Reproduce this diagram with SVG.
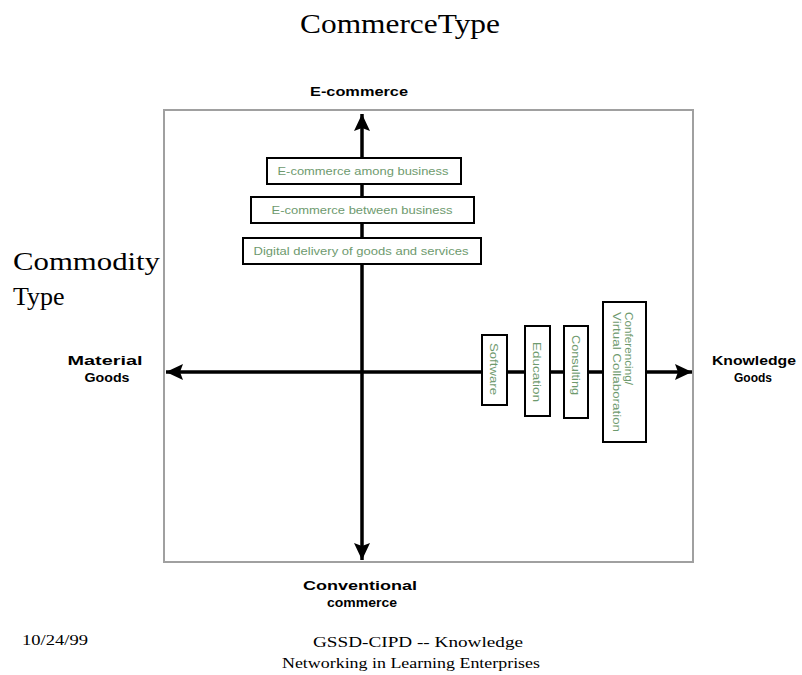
<svg xmlns="http://www.w3.org/2000/svg" width="802" height="675" viewBox="0 0 802 675">
  <style>
    .serif { font-family: "Liberation Serif", "Times New Roman", serif; fill: #000; }
    .axis-label { font-family: "Liberation Sans", Arial, sans-serif; font-weight: bold; font-size: 13px; fill: #000; text-anchor: middle; }
    .box { fill: #fff; stroke: #000; stroke-width: 2; }
    .box-text { font-family: "Liberation Sans", Arial, sans-serif; font-size: 11px; fill: #6e9a6e; text-anchor: middle; }
    .axis { stroke: #000; stroke-width: 3.5; fill: none; }
    .frame { fill: #fff; stroke: #a0a0a0; stroke-width: 2; }
  </style>
  <defs>
    <marker id="arrow" markerUnits="userSpaceOnUse" viewBox="-18 -10 20 20" refX="0" refY="0" markerWidth="20" markerHeight="20" orient="auto-start-reverse">
      <path d="M0,0 L-17,-8 L-14,0 L-17,8 Z" fill="#000"/>
    </marker>
  </defs>

  <rect width="802" height="675" fill="#fff"/>

  <!-- Titles -->
  <text class="serif" x="300" y="33" font-size="27" textLength="200" lengthAdjust="spacingAndGlyphs">CommerceType</text>
  <text class="serif" x="13" y="270" font-size="26" textLength="147" lengthAdjust="spacingAndGlyphs">Commodity</text>
  <text class="serif" x="13" y="305" font-size="26">Type</text>

  <!-- Plot frame -->
  <rect class="frame" x="164" y="110" width="529" height="452"/>

  <!-- Axes -->
  <g id="connectors">
    <line class="axis" x1="362" y1="114" x2="362" y2="560" marker-start="url(#arrow)" marker-end="url(#arrow)"/>
    <line class="axis" x1="166" y1="372" x2="692" y2="372" marker-start="url(#arrow)" marker-end="url(#arrow)"/>
  </g>

  <!-- Axis end labels -->
  <g id="label-ecommerce">
    <text class="axis-label" x="359" y="96" textLength="98" lengthAdjust="spacingAndGlyphs">E-commerce</text>
  </g>
  <g id="label-conventional">
    <text class="axis-label" x="360" y="590" textLength="114" lengthAdjust="spacingAndGlyphs">Conventional</text>
    <text class="axis-label" x="362" y="607" textLength="70" lengthAdjust="spacingAndGlyphs">commerce</text>
  </g>
  <g id="label-material">
    <text class="axis-label" x="105" y="365" textLength="75" lengthAdjust="spacingAndGlyphs">Material</text>
    <text class="axis-label" x="107" y="382" textLength="45" lengthAdjust="spacingAndGlyphs">Goods</text>
  </g>
  <g id="label-knowledge">
    <text class="axis-label" x="754" y="365" textLength="84" lengthAdjust="spacingAndGlyphs">Knowledge</text>
    <text class="axis-label" x="753" y="382" textLength="38" lengthAdjust="spacingAndGlyphs">Goods</text>
  </g>

  <!-- E-commerce stack -->
  <g id="node-among">
    <rect class="box" x="267" y="158" width="194" height="26"/>
    <text class="box-text" x="363" y="175" textLength="171" lengthAdjust="spacingAndGlyphs">E-commerce among business</text>
  </g>
  <g id="node-between">
    <rect class="box" x="251" y="197" width="223" height="26"/>
    <text class="box-text" x="362" y="214" textLength="181" lengthAdjust="spacingAndGlyphs">E-commerce between business</text>
  </g>
  <g id="node-digital">
    <rect class="box" x="243" y="238" width="238" height="26"/>
    <text class="box-text" x="361" y="255" textLength="215" lengthAdjust="spacingAndGlyphs">Digital delivery of goods and services</text>
  </g>

  <!-- Knowledge goods stack -->
  <g id="node-software">
    <rect class="box" x="482" y="335" width="25" height="70"/>
    <text class="box-text" transform="translate(494,369) rotate(90)" dy="0.35em" textLength="52" lengthAdjust="spacingAndGlyphs">Software</text>
  </g>
  <g id="node-education">
    <rect class="box" x="525" y="326" width="25" height="90"/>
    <text class="box-text" transform="translate(537,372) rotate(90)" dy="0.35em" textLength="60" lengthAdjust="spacingAndGlyphs">Education</text>
  </g>
  <g id="node-consulting">
    <rect class="box" x="564" y="326" width="24" height="92"/>
    <text class="box-text" transform="translate(576,365) rotate(90)" dy="0.35em" textLength="60" lengthAdjust="spacingAndGlyphs">Consulting</text>
  </g>
  <g id="node-conferencing">
    <rect class="box" x="603" y="302" width="43" height="140"/>
    <text class="box-text" transform="translate(629,312) rotate(90)" dy="0.35em" style="text-anchor:start" textLength="73" lengthAdjust="spacingAndGlyphs">Conferencing/</text>
    <text class="box-text" transform="translate(617,312) rotate(90)" dy="0.35em" style="text-anchor:start" textLength="120" lengthAdjust="spacingAndGlyphs">Virtual Collaboration</text>
  </g>

  <!-- Footer -->
  <text class="serif" x="22" y="645" font-size="14" textLength="66" lengthAdjust="spacingAndGlyphs">10/24/99</text>
  <text class="serif" x="313" y="647" font-size="14" textLength="210" lengthAdjust="spacingAndGlyphs">GSSD-CIPD --  Knowledge</text>
  <text class="serif" x="282" y="668" font-size="14" textLength="258" lengthAdjust="spacingAndGlyphs">Networking in Learning Enterprises</text>
</svg>
